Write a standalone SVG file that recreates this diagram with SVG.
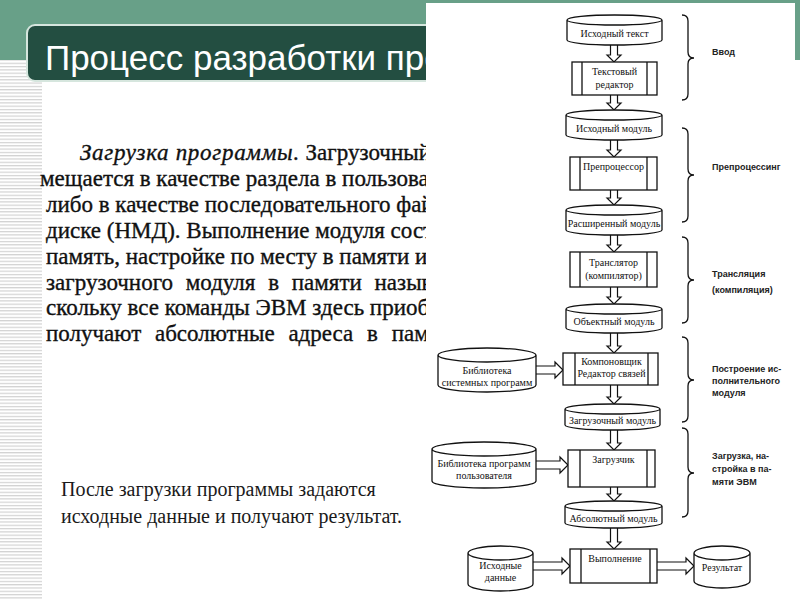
<svg xmlns="http://www.w3.org/2000/svg" width="800" height="600" viewBox="0 0 800 600">
<style>
.para{font-family:"Liberation Serif","Times New Roman",serif;font-size:23px;fill:#111;stroke:#111;stroke-width:0.35;}
.note{font-family:"Liberation Serif","Times New Roman",serif;font-size:20px;fill:#1a1a1a;}
.shape{fill:#fff;stroke:#111;stroke-width:1.3;}
.inner{stroke:#111;stroke-width:1.3;fill:none;}
.nt{font-family:"Liberation Serif","Times New Roman",serif;font-size:10px;fill:#111;text-anchor:middle;}
.lb{font-family:"Liberation Sans",Arial,sans-serif;font-size:9px;font-weight:bold;fill:#222;}
.arrow{fill:#fff;stroke:#111;stroke-width:1.2;stroke-linejoin:miter;}
.brace{fill:none;stroke:#111;stroke-width:1.3;}
</style>
<defs>
<pattern id="stripes" width="4" height="3.3" patternUnits="userSpaceOnUse">
<rect width="4" height="3.3" fill="#fff"/>
<rect y="0" width="4" height="1.2" fill="#d2d2d2"/>
</pattern>
</defs>
<rect width="800" height="600" fill="#fff"/>
<rect x="0" y="0" width="800" height="60" fill="#68a088"/>
<rect x="0" y="60" width="42" height="540" fill="url(#stripes)"/>
<rect x="27" y="25" width="440" height="56" rx="8" fill="#234e41" stroke="#d6e6de" stroke-width="2"/>
<text x="45" y="70" style="font-family:'Liberation Sans',Arial,sans-serif;font-size:35px;fill:#fff;">Процесс разработки программ</text>
<g id="paragraph">
<text class="para" x="80" y="160"><tspan font-style="italic" letter-spacing="0.7">Загрузка программы.</tspan> Загрузочный</text>
<text class="para" x="40" y="186">мещается в качестве раздела в пользователь</text>
<text class="para" x="46" y="212">либо в качестве последовательного файла</text>
<text class="para" x="46" y="238">диске (НМД). Выполнение модуля состоит</text>
<text class="para" x="46" y="264">память, настройке по месту в памяти и</text>
<text class="para" x="46" y="290" word-spacing="7">загрузочного модуля в памяти называется</text>
<text class="para" x="46" y="315">скольку все команды ЭВМ здесь приобретают</text>
<text class="para" x="46" y="341" word-spacing="8">получают абсолютные адреса в памяти</text>
</g>
<text class="note" x="61" y="496">После загрузки программы задаются</text>
<text class="note" x="61" y="523">исходные данные и получают результат.</text>
<rect x="426" y="3" width="369" height="597" fill="#fff"/>
<g id="connectors">
<path class="arrow" d="M610.5,45 V55 H607 L614,62 L621,55 H617.5 V45"/>
<path class="arrow" d="M610.5,95 V103 H607 L614,110 L621,103 H617.5 V95"/>
<path class="arrow" d="M610.5,140 V150 H607 L614,157 L621,150 H617.5 V140"/>
<path class="arrow" d="M610.5,190 V198 H607 L614,205 L621,198 H617.5 V190"/>
<path class="arrow" d="M610.5,235 V245 H607 L614,252 L621,245 H617.5 V235"/>
<path class="arrow" d="M610.5,287 V297 H607 L614,304 L621,297 H617.5 V287"/>
<path class="arrow" d="M610.5,333 V346 H607 L614,353 L621,346 H617.5 V333"/>
<path class="arrow" d="M610.5,385 V397 H607 L614,404 L621,397 H617.5 V385"/>
<path class="arrow" d="M610.5,430 V443 H607 L614,450 L621,443 H617.5 V430"/>
<path class="arrow" d="M610.5,487 V494 H607 L614,501 L621,494 H617.5 V487"/>
<path class="arrow" d="M610.5,528 V542 H607 L614,549 L621,542 H617.5 V528"/>
<path class="arrow" d="M536,366 H555 V362 L563,370 L555,378 V374 H536"/>
<path class="arrow" d="M536,461 H560 V457 L568,465 L560,473 V469 H536"/>
<path class="arrow" d="M533,562 H562 V558 L570,566 L562,574 V570 H533"/>
<path class="arrow" d="M657,562 H686 V558 L694,566 L686,574 V570 H657"/>
</g>
<g id="n-src-text">
<path class="shape" d="M567,20 A47.5,5 0 0 1 662,20 V40 A47.5,5 0 0 1 567,40 Z M567,20 A47.5,5 0 0 0 662,20"/>
<text class="nt" x="614.5" y="37">Исходный текст</text>
</g>
<g id="n-editor">
<rect class="shape" x="572" y="62" width="85" height="33"/>
<path class="inner" d="M582,62 V95 M647,62 V95"/>
<text class="nt" x="614.5" y="75">Текстовый</text>
<text class="nt" x="614.5" y="88">редактор</text>
</g>
<g id="n-src-module">
<path class="shape" d="M566,115 A48,5 0 0 1 662,115 V135 A48,5 0 0 1 566,135 Z M566,115 A48,5 0 0 0 662,115"/>
<text class="nt" x="614" y="132">Исходный модуль</text>
</g>
<g id="n-preproc">
<rect class="shape" x="570" y="157" width="87" height="33"/>
<path class="inner" d="M580,157 V190 M647,157 V190"/>
<text class="nt" x="613.5" y="170">Препроцессор</text>
</g>
<g id="n-ext-module">
<path class="shape" d="M566,210 A48,5 0 0 1 662,210 V230 A48,5 0 0 1 566,230 Z M566,210 A48,5 0 0 0 662,210"/>
<text class="nt" x="614" y="227">Расширенный модуль</text>
</g>
<g id="n-translator">
<rect class="shape" x="570" y="252" width="87" height="35"/>
<path class="inner" d="M580,252 V287 M647,252 V287"/>
<text class="nt" x="613.5" y="266">Транслятор</text>
<text class="nt" x="613.5" y="279">(компилятор)</text>
</g>
<g id="n-obj-module">
<path class="shape" d="M566,309 A48,5 0 0 1 662,309 V328 A48,5 0 0 1 566,328 Z M566,309 A48,5 0 0 0 662,309"/>
<text class="nt" x="614" y="325">Объектный модуль</text>
</g>
<g id="n-syslib">
<path class="shape" d="M438,355 A49,7 0 0 1 536,355 V385 A49,7 0 0 1 438,385 Z M438,355 A49,7 0 0 0 536,355"/>
<text class="nt" x="487" y="374">Библиотека</text>
<text class="nt" x="487" y="386">системных программ</text>
</g>
<g id="n-linker">
<rect class="shape" x="563" y="353" width="95" height="32"/>
<path class="inner" d="M575,353 V385 M648,353 V385"/>
<text class="nt" x="611.5" y="365">Компоновщик</text>
<text class="nt" x="611.5" y="377">Редактор связей</text>
</g>
<g id="n-load-module">
<path class="shape" d="M565,409 A47.5,5 0 0 1 660,409 V425 A47.5,5 0 0 1 565,425 Z M565,409 A47.5,5 0 0 0 660,409"/>
<text class="nt" x="612.5" y="424">Загрузочный модуль</text>
</g>
<g id="n-userlib">
<path class="shape" d="M432,449 A52,7 0 0 1 536,449 V481 A52,7 0 0 1 432,481 Z M432,449 A52,7 0 0 0 536,449"/>
<text class="nt" x="484" y="467">Библиотека программ</text>
<text class="nt" x="484" y="479">пользователя</text>
</g>
<g id="n-loader">
<rect class="shape" x="568" y="450" width="87" height="37"/>
<path class="inner" d="M580,450 V487 M647,450 V487"/>
<text class="nt" x="613.5" y="463">Загрузчик</text>
</g>
<g id="n-abs-module">
<path class="shape" d="M565,506 A48.5,5 0 0 1 662,506 V523 A48.5,5 0 0 1 565,523 Z M565,506 A48.5,5 0 0 0 662,506"/>
<text class="nt" x="613.5" y="522">Абсолютный модуль</text>
</g>
<g id="n-input">
<path class="shape" d="M468,553 A32.5,7 0 0 1 533,553 V584 A32.5,7 0 0 1 468,584 Z M468,553 A32.5,7 0 0 0 533,553"/>
<text class="nt" x="500.5" y="569">Исходные</text>
<text class="nt" x="500.5" y="581">данные</text>
</g>
<g id="n-exec">
<rect class="shape" x="570" y="549" width="87" height="34"/>
<path class="inner" d="M581,549 V583 M650,549 V583"/>
<text class="nt" x="615" y="562">Выполнение</text>
</g>
<g id="n-result">
<path class="shape" d="M694,553 A28,7 0 0 1 750,553 V581 A28,7 0 0 1 694,581 Z M694,553 A28,7 0 0 0 750,553"/>
<text class="nt" x="722" y="571">Результат</text>
</g>
<g id="stages">
<path class="brace" d="M682,15 Q688,15 688,21 V52 Q688,58 694,58 Q688,58 688,64 V94 Q688,100 682,100"/>
<path class="brace" d="M682,128 Q688,128 688,134 V169 Q688,175 694,175 Q688,175 688,181 V216 Q688,222 682,222"/>
<path class="brace" d="M682,237 Q688,237 688,243 V274 Q688,280 694,280 Q688,280 688,286 V317 Q688,323 682,323"/>
<path class="brace" d="M682,337 Q688,337 688,343 V374 Q688,380 694,380 Q688,380 688,386 V416 Q688,422 682,422"/>
<path class="brace" d="M682,428 Q688,428 688,434 V467 Q688,473 694,473 Q688,473 688,479 V511 Q688,517 682,517"/>
<text class="lb" x="712" y="55">Ввод</text>
<text class="lb" x="712" y="170">Препроцессинг</text>
<text class="lb" x="712" y="277">Трансляция</text>
<text class="lb" x="712" y="293">(компиляция)</text>
<text class="lb" x="712" y="372">Построение ис-</text>
<text class="lb" x="712" y="384">полнительного</text>
<text class="lb" x="712" y="396">модуля</text>
<text class="lb" x="712" y="459">Загрузка, на-</text>
<text class="lb" x="712" y="472">стройка в па-</text>
<text class="lb" x="712" y="485">мяти ЭВМ</text>
</g>
</svg>
